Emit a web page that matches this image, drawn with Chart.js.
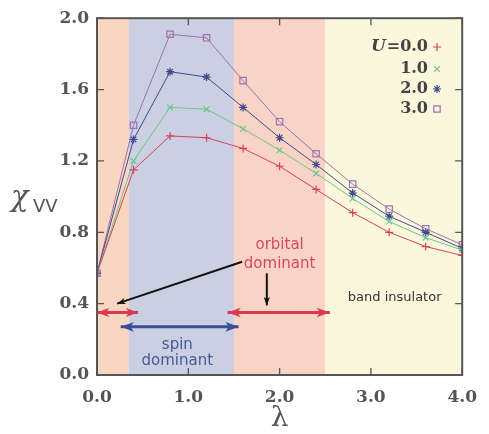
<!DOCTYPE html>
<html>
<head>
<meta charset="utf-8">
<script src="https://cdn.jsdelivr.net/npm/chart.js@4.4.1/dist/chart.umd.min.js"></script>
<style>
    html, body { margin: 0; padding: 0; background: #ffffff; }
    #wrap { width: 489px; height: 434px; }
</style>
</head>
<body>
<div id="wrap"><canvas id="chiChart" width="489" height="434"></canvas></div>
<script>
// lambda values (x axis)
const lambdas = [0.0, 0.4, 0.8, 1.2, 1.6, 2.0, 2.4, 2.8, 3.2, 3.6, 4.0];

// chi_VV for each U
const chiU0 = [0.57, 1.15, 1.34, 1.33, 1.27, 1.17, 1.04, 0.91, 0.80, 0.72, 0.67];
const chiU1 = [0.57, 1.20, 1.50, 1.49, 1.38, 1.26, 1.13, 0.99, 0.86, 0.77, 0.70];
const chiU2 = [0.57, 1.32, 1.70, 1.67, 1.50, 1.33, 1.18, 1.02, 0.89, 0.80, 0.71];
const chiU3 = [0.57, 1.40, 1.91, 1.89, 1.65, 1.42, 1.24, 1.07, 0.93, 0.82, 0.73];

const uLabels = ['0.0', '1.0', '2.0', '3.0'];

const xTicks = [0, 1, 2, 3, 4];
const yTicks = [0, 0.4, 0.8, 1.2, 1.6, 2.0];

// region edges along lambda
const bandEdges = [0.0, 0.35, 1.5, 2.5, 4.0];
const bandColors = ['#f8d6c2', '#cbcfe2', '#f9d3c5', '#fbf7dd'];

const toPoints = arr => arr.map((v, i) => ({x: lambdas[i], y: v}));

const series = [
    {data: chiU0, color: '#d9405a', style: 'cross'},
    {data: chiU1, color: '#6cc48a', style: 'crossRot'},
    {data: chiU2, color: '#3e4a8c', style: 'star'},
    {data: chiU3, color: '#a070b0', style: 'rect'}
];

const datasets = series.map((s, i) => ({
    label: 'U = ' + uLabels[i],
    data: toPoints(s.data),
    borderColor: s.color,
    backgroundColor: s.style === 'rect' ? 'rgba(0,0,0,0)' : s.color,
    borderWidth: 1,
    pointStyle: s.style,
    pointRadius: s.style === 'rect' ? 4.5 : 4,
    pointBorderColor: s.color,
    pointBorderWidth: 1.2,
    tension: 0
}));

function arrow(ctx, x1, y1, x2, y2, color, width, head, both) {
    ctx.save();
    ctx.strokeStyle = color;
    ctx.fillStyle = color;
    ctx.lineWidth = width;
    const ang = Math.atan2(y2 - y1, x2 - x1);
    const drawHead = (x, y, a) => {
        ctx.beginPath();
        ctx.moveTo(x, y);
        ctx.lineTo(x - head * Math.cos(a - 0.35), y - head * Math.sin(a - 0.35));
        ctx.lineTo(x - head * 0.7 * Math.cos(a), y - head * 0.7 * Math.sin(a));
        ctx.lineTo(x - head * Math.cos(a + 0.35), y - head * Math.sin(a + 0.35));
        ctx.closePath();
        ctx.fill();
    };
    ctx.beginPath();
    ctx.moveTo(x1, y1);
    ctx.lineTo(x2, y2);
    ctx.stroke();
    drawHead(x2, y2, ang);
    if (both) drawHead(x1, y1, ang + Math.PI);
    ctx.restore();
}

const backgroundPlugin = {
    id: 'bands',
    beforeDatasetsDraw(chart) {
        const {ctx, chartArea, scales} = chart;
        ctx.save();
        for (let i = 0; i < bandColors.length; i++) {
            const x0 = scales.x.getPixelForValue(bandEdges[i]);
            const x1 = scales.x.getPixelForValue(bandEdges[i + 1]);
            ctx.fillStyle = bandColors[i];
            ctx.fillRect(x0, chartArea.top, x1 - x0, chartArea.bottom - chartArea.top);
        }
        ctx.restore();
    }
};

const decorPlugin = {
    id: 'decor',
    afterDraw(chart) {
        const {ctx, chartArea, scales} = chart;
        const X = v => scales.x.getPixelForValue(v);
        const Y = v => scales.y.getPixelForValue(v);

        // frame + inward ticks
        ctx.save();
        ctx.strokeStyle = '#555555';
        ctx.lineWidth = 2;
        ctx.strokeRect(chartArea.left, chartArea.top, chartArea.right - chartArea.left, chartArea.bottom - chartArea.top);
        ctx.lineWidth = 1.3;
        ctx.beginPath();
        yTicks.forEach(v => {
            ctx.moveTo(chartArea.left, Y(v));
            ctx.lineTo(chartArea.left + 7, Y(v));
            ctx.moveTo(chartArea.right, Y(v));
            ctx.lineTo(chartArea.right - 7, Y(v));
        });
        xTicks.forEach(v => {
            ctx.moveTo(X(v), chartArea.bottom);
            ctx.lineTo(X(v), chartArea.bottom - 7);
            ctx.moveTo(X(v), chartArea.top);
            ctx.lineTo(X(v), chartArea.top + 7);
        });
        ctx.stroke();
        ctx.restore();

        // arrows
        arrow(ctx, X(0.0), Y(0.35), X(0.45), Y(0.35), '#d83a50', 3, 13, true);
        arrow(ctx, X(0.26), Y(0.27), X(1.55), Y(0.27), '#3b4d96', 3, 14, true);
        arrow(ctx, X(1.43), Y(0.35), X(2.55), Y(0.35), '#d83a50', 3, 14, true);
        arrow(ctx, X(1.59), Y(0.635), X(0.22), Y(0.40), '#111111', 2, 9, false);
        arrow(ctx, X(1.86), Y(0.57), X(1.86), Y(0.39), '#111111', 2, 9, false);

        // annotation text
        ctx.save();
        ctx.textAlign = 'center';
        ctx.textBaseline = 'middle';
        ctx.font = '15px "DejaVu Sans", sans-serif';
        ctx.fillStyle = '#d44a66';
        ctx.fillText('orbital', X(2.0), 245);
        ctx.fillText('dominant', X(2.0), 264);
        ctx.fillStyle = '#4a5898';
        ctx.fillText('spin', X(0.88), 345);
        ctx.fillText('dominant', X(0.88), 361);
        ctx.fillStyle = '#333333';
        ctx.font = '13px "DejaVu Sans", sans-serif';
        ctx.fillText('band insulator', X(3.26), 298);

        // axis titles
        ctx.fillStyle = '#555555';
        ctx.textAlign = 'left';
        ctx.textBaseline = 'alphabetic';
        ctx.font = 'italic 29px "DejaVu Serif", serif';
        ctx.fillText('\u03c7', 11, 206);
        ctx.font = '18px "DejaVu Sans", sans-serif';
        ctx.fillText('VV', 33, 212);
        ctx.textAlign = 'center';
        ctx.font = '28px "DejaVu Serif", serif';
        ctx.fillText('\u03bb', X(2.0), 426);
        ctx.restore();

        // legend
        const legX = 428;
        const rows = [47, 69, 89, 109];
        chart.data.datasets.forEach((ds, i) => {
            ctx.save();
            ctx.textBaseline = 'middle';
            ctx.textAlign = 'right';
            ctx.fillStyle = '#444444';
            ctx.font = 'bold 16px "DejaVu Serif", serif';
            ctx.fillText((i === 0 ? '=' : '') + uLabels[i], legX, rows[i]);
            if (i === 0) {
                const w = ctx.measureText('=' + uLabels[i]).width;
                ctx.font = 'bold italic 17px "DejaVu Serif", serif';
                ctx.fillText('U', legX - w - 1, rows[i]);
            }
            ctx.strokeStyle = ds.borderColor;
            ctx.fillStyle = ds.backgroundColor;
            ctx.lineWidth = 1.2;
            Chart.helpers.drawPoint(ctx, {
                pointStyle: ds.pointStyle,
                radius: ds.pointRadius,
                borderWidth: 1.2,
                rotation: 0
            }, legX + 9, rows[i]);
            ctx.restore();
        });
    }
};

new Chart(document.getElementById('chiChart'), {
    type: 'line',
    data: {datasets: datasets},
    options: {
        responsive: false,
        animation: false,
        devicePixelRatio: 1,
        layout: {padding: {left: 0, right: 15, top: 17, bottom: 0}},
        plugins: {
            legend: {display: false},
            tooltip: {enabled: false}
        },
        scales: {
            x: {
                type: 'linear',
                min: 0,
                max: 4,
                afterFit: s => { s.height = 59; },
                afterBuildTicks: s => { s.ticks = xTicks.map(v => ({value: v})); },
                grid: {display: false, drawTicks: false},
                border: {display: false},
                ticks: {
                    padding: 12,
                    color: '#555555',
                    font: {family: '"DejaVu Serif", serif', size: 17, weight: 'bold'},
                    callback: v => v.toFixed(1)
                }
            },
            y: {
                min: 0,
                max: 2,
                afterFit: s => { s.width = 97; },
                afterBuildTicks: s => { s.ticks = yTicks.map(v => ({value: v})); },
                grid: {display: false, drawTicks: false},
                border: {display: false},
                ticks: {
                    padding: 8,
                    color: '#555555',
                    font: {family: '"DejaVu Serif", serif', size: 17, weight: 'bold'},
                    callback: v => v.toFixed(1)
                }
            }
        }
    },
    plugins: [backgroundPlugin, decorPlugin]
});
</script>
</body>
</html>
